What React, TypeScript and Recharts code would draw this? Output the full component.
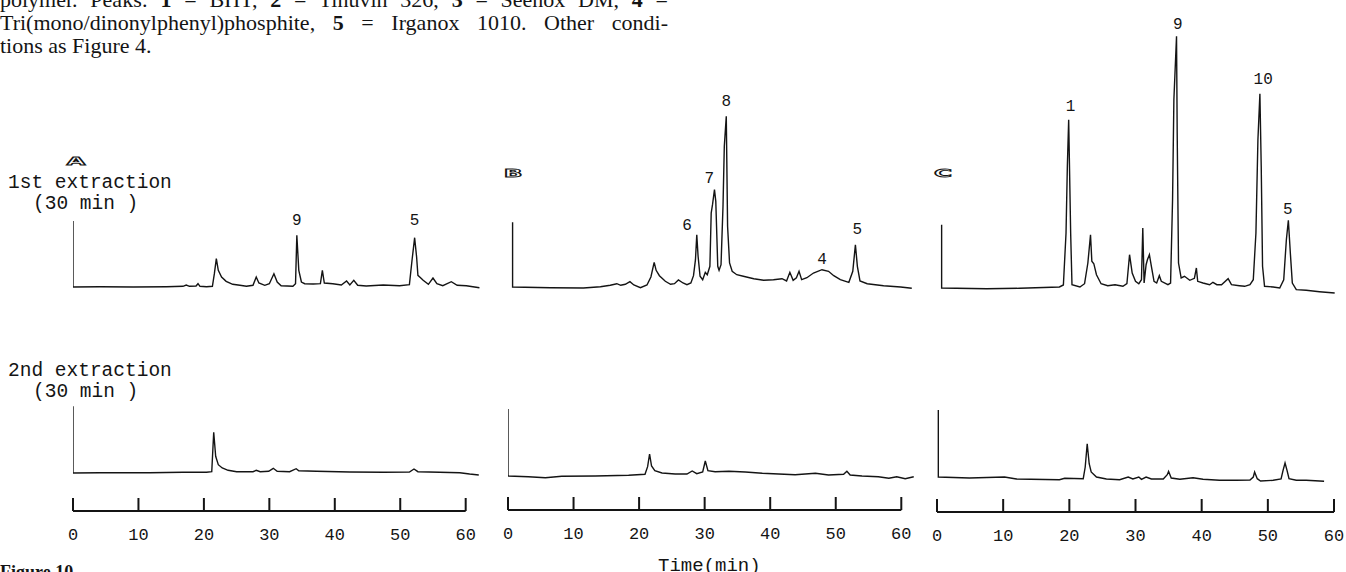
import React from 'react';
import { ComposedChart, Line, Scatter, XAxis, YAxis } from 'recharts';

type Pt = [number, number];

// retention time axis (min)
const timeTicks = [0, 10, 20, 30, 40, 50, 60];

// detector response: [time (min), signal]
const traceA1: Pt[] = [
  [0, 66], [0, 0], [4.1, 0.3], [9.2, 0], [14.3, 0.3], [16.8, 0.7], [17.3, 2], [17.8, 0.7],
  [18.8, 1], [19.1, 3.3], [19.4, 0.7], [20.4, 0.3], [21.3, 0.7], [21.6, 13.3], [21.9, 28.3],
  [22.2, 16.7], [22.7, 10], [23.4, 5.7], [24.4, 2.7], [25.5, 1.7], [26.5, 0.7], [27.5, 1.7],
  [28.0, 10], [28.4, 4], [29.3, 1.7], [30.0, 3.3], [30.7, 13.3], [31.2, 5], [31.8, 1.3],
  [33.6, 0.7], [34.0, 3.3], [34.2, 51.7], [34.5, 16.7], [34.9, 5], [35.4, 3.3], [36.7, 3],
  [37.8, 3.3], [38.1, 16.7], [38.4, 4], [39.7, 3.3], [41.0, 2], [41.8, 6], [42.3, 2],
  [42.9, 6.7], [43.5, 1.7], [44.8, 1], [47.4, 2], [49.9, 1.3], [51.4, 2.3], [51.8, 26.7],
  [52.2, 49.3], [52.5, 30], [52.7, 11.7], [53.1, 9.3], [53.5, 6.7], [54.3, 2.7], [55.0, 9],
  [55.6, 3.3], [56.5, 1.3], [57.8, 5.3], [58.7, 1.7], [60.1, 1.3], [61.1, 0.3], [62.1, -0.7],
];

const traceA2: Pt[] = [
  [0, 66.7], [0, 0], [4.1, 0.3], [11.7, 0.3], [16.8, 0.7], [20.4, 0.7], [21.2, 1.3], [21.5, 40.7],
  [21.8, 16.7], [22.2, 8.3], [22.8, 5], [23.7, 2.7], [25.0, 1.3], [27.5, 1.3], [28.0, 2.7],
  [28.6, 1.3], [29.9, 1.7], [30.6, 4.7], [31.2, 1.7], [33.1, 1.3], [34.1, 4.3], [34.5, 2.3],
  [37.2, 1.7], [42.3, 1], [47.4, 0.7], [51.4, 1], [52.1, 4], [52.7, 1.3], [56.0, 0.7],
  [59.1, 0.3], [60.6, -1], [62.0, -2],
];

const traceB1: Pt[] = [
  [0.7, 64.7], [0.7, 0], [6.5, -0.7], [11.5, -1], [14.1, 0.3], [15.6, 1.7], [16.6, 3.3],
  [17.2, 1.7], [17.9, 2.7], [18.6, 5.3], [19.2, 2], [20.2, -0.7], [21.2, 2], [21.8, 10],
  [22.3, 24.7], [22.6, 16.7], [23.1, 11.3], [24.0, 5.7], [24.8, 2.7], [25.4, 3.3], [26.0, 7],
  [26.7, 4], [27.3, 2.3], [27.9, 4], [28.3, 11.3], [28.6, 27.3], [28.8, 52.3], [29.0, 30.7],
  [29.3, 10.7], [29.7, 7.3], [30.1, 14.7], [30.4, 12.3], [30.8, 20.7], [31.0, 74], [31.2, 82.3],
  [31.5, 97.3], [31.7, 85.7], [32.0, 20.7], [32.2, 16.7], [32.5, 22.3], [32.8, 80.7],
  [33.0, 140.7], [33.3, 170.7], [33.5, 60.7], [33.8, 24], [34.2, 15.7], [34.9, 12.3],
  [35.9, 10.7], [37.5, 8.3], [39.0, 6.7], [40.5, 7.3], [41.8, 8.3], [42.5, 6], [43.0, 14.7],
  [43.5, 6.7], [44.0, 9.3], [44.4, 15.7], [44.8, 7.3], [45.6, 9.3], [46.6, 14], [47.9, 17.3],
  [48.9, 15.7], [49.7, 11.3], [50.7, 7.3], [52.0, 4.7], [52.6, 15.7], [53.0, 42.3],
  [53.3, 20.7], [53.7, 6], [54.8, 3.3], [57.3, 1.3], [59.9, 0], [61.6, -1.3],
];

const traceB2: Pt[] = [
  [0, 67], [0, 0], [3.1, -0.7], [5.7, -1.7], [8.2, -0.3], [13.3, 0], [18.4, 0.7], [20.9, 1.7],
  [21.3, 9.3], [21.6, 22], [21.9, 10], [22.4, 5.3], [23.5, 3], [25.5, 2], [27.3, 2], [28.1, 5],
  [28.8, 2.3], [29.7, 4], [30.1, 15], [30.5, 5.3], [31.6, 4.3], [33.7, 4.7], [36.2, 4],
  [38.8, 2.7], [41.3, 2], [43.8, 1.3], [46.9, 2.7], [48.9, 1], [51.2, 1.7], [51.7, 4.7],
  [52.2, 1], [54.0, 0], [56.5, -0.7], [58.1, -2.3], [59.3, -0.7], [60.6, -2.7], [61.9, -0.7],
];

const traceC1: Pt[] = [
  [0.7, 63.3], [0.7, 0], [7.5, -0.7], [12.5, -0.3], [18.5, 1], [19.1, 3], [19.5, 55],
  [19.7, 121.7], [19.9, 168.3], [20.2, 55], [20.4, 3.3], [21.6, 1], [22.3, 4.3], [22.8, 25],
  [23.2, 53.3], [23.4, 26.7], [23.7, 24.3], [24.1, 13.3], [24.8, 4.3], [25.8, 2.3], [26.9, 3.3],
  [28.1, 1.7], [28.7, 4.3], [29.1, 33.3], [29.5, 15], [30.0, 6.7], [30.5, 4.3], [30.9, 8.3],
  [31.1, 60], [31.3, 5], [31.6, 23.3], [31.8, 28.3], [32.1, 33.3], [32.4, 21.7], [32.8, 6.7],
  [33.2, 5], [33.6, 12.3], [33.9, 6.7], [34.9, 3.3], [35.3, 5], [35.6, 88.3], [35.8, 188.3],
  [36.2, 251.7], [36.3, 155], [36.5, 25], [36.9, 10], [37.4, 11.7], [38.2, 7.7], [38.9, 9.7],
  [39.2, 20], [39.4, 6.7], [40.2, 5], [41.2, 3.3], [41.7, 5.7], [42.3, 3.3], [43.0, 3.3],
  [44.0, 9.3], [44.5, 3.3], [45.7, 2.3], [46.5, 1.7], [47.3, 3.3], [47.8, 8.3], [48.2, 55],
  [48.5, 148.3], [48.8, 194.3], [49.0, 121.7], [49.2, 21.7], [49.5, 1.7], [50.8, 1], [51.8, 0],
  [52.4, 8.3], [52.8, 48.3], [53.1, 67.7], [53.4, 35], [53.7, 5], [54.3, -1.7], [55.8, -2.3],
  [57.8, -3.7], [60.1, -5],
];

const traceC2: Pt[] = [
  [0.2, 67], [0.2, 0], [4.9, -1], [10.2, 0], [12.0, -2], [18.5, -2.7], [19.3, -1.3], [22.1, -1.7],
  [22.4, 10], [22.7, 33.3], [23.0, 13.3], [23.3, 5], [24.1, 0], [25.6, -2], [27.6, -2.7],
  [28.9, 0], [29.6, -2], [30.5, 0], [30.9, -2.3], [31.6, 0], [32.4, -2], [34.2, -2], [34.8, 2.3],
  [35.0, 5.7], [35.4, -1], [36.7, -2.3], [38.7, -0.7], [40.2, -2.3], [42.7, -3.3], [45.2, -3.3],
  [47.3, -3], [47.8, 0], [48.0, 5], [48.4, -1.7], [48.9, -4], [50.8, -3.3], [52.0, -2],
  [52.3, 6.7], [52.6, 14], [52.9, 6.7], [53.2, -1.7], [54.3, -3.3], [55.8, -3.3], [58.5, -4.3],
];

// peak numbers, anchored at [time, signal] where they stand on the scan
const peaksA = [{ name: '9', t: 34.2, v: 66 }, { name: '5', t: 52.2, v: 66 }];
const peaksB = [
  { name: '6', t: 27.3, v: 60.6 },
  { name: '7', t: 30.7, v: 108.3 },
  { name: '8', t: 33.3, v: 184.6 },
  { name: '4', t: 47.9, v: 27.3 },
  { name: '5', t: 53.3, v: 57.3 },
];
const peaksC = [
  { name: '1', t: 20.2, v: 181 },
  { name: '9', t: 36.4, v: 263.3 },
  { name: '10', t: 49.3, v: 208.3 },
  { name: '5', t: 53.0, v: 77.6 },
];

const INK = '#141414';
const MONO = '"Liberation Mono", "DejaVu Sans Mono", monospace';
const SERIF = '"Liberation Serif", "DejaVu Serif", serif';

const toRows = (pts: Pt[]) => pts.map(([t, v]) => ({ t, v }));

// where each panel sits on the page
const panels = [
  { letter: 'A', x0: 73.3, ppm: 6.545, topZero: 287, botZero: 473.3, axisY: 510.7, letterX: 76, letterY: 161, top: traceA1, bottom: traceA2, peaks: peaksA },
  { letter: 'B', x0: 507.7, ppm: 6.555, topZero: 287.3, botZero: 476, axisY: 510, letterX: 513, letterY: 172.5, top: traceB1, bottom: traceB2, peaks: peaksB },
  { letter: 'C', x0: 937.3, ppm: 6.617, topZero: 288.3, botZero: 476.7, axisY: 511.7, letterX: 943, letterY: 173, top: traceC1, bottom: traceC2, peaks: peaksC },
];

const PeakTag = (p: any) => (
  <text x={p.cx} y={p.cy} textAnchor="middle" dominantBaseline="central" fontFamily={MONO} fontSize={16} fill={INK}>
    {p.payload.name}
  </text>
);

const TimeTick = (p: any) => (
  <g>
    <line x1={p.x} y1={p.y} x2={p.x} y2={p.y - 13} stroke={INK} strokeWidth={2} />
    <text x={p.x} y={p.y + 25} textAnchor="middle" dominantBaseline="central" fontFamily={MONO} fontSize={17} fill={INK}>
      {p.payload.value}
    </text>
  </g>
);

function Trace({ pts, peaks, left, top, ppm, yMin, yMax }: any) {
  const pad = 4;
  const width = 63 * ppm + pad * 2;
  const height = yMax - yMin;
  return (
    <div style={{ position: 'absolute', left: left - pad, top }}>
      <ComposedChart width={width} height={height} margin={{ top: 0, right: pad, bottom: 0, left: pad }}>
        <XAxis type="number" dataKey="t" domain={[0, 63]} allowDataOverflow hide />
        <YAxis type="number" domain={[yMin, yMax]} allowDataOverflow hide />
        <Line data={toRows(pts)} dataKey="v" type="linear" dot={false} stroke={INK} strokeWidth={1.4} isAnimationActive={false} />
        {peaks && <Scatter data={peaks} dataKey="v" shape={PeakTag} isAnimationActive={false} />}
      </ComposedChart>
    </div>
  );
}

function TimeAxis({ left, axisY, ppm }: any) {
  const side = 20;
  return (
    <div style={{ position: 'absolute', left: left - side, top: axisY - 20 }}>
      <ComposedChart width={60 * ppm + side * 2} height={60} data={timeTicks.map((t) => ({ t }))} margin={{ top: 10, right: side, bottom: 0, left: side }}>
        <XAxis
          type="number"
          dataKey="t"
          domain={[0, 60]}
          ticks={timeTicks}
          interval={0}
          height={40}
          tickLine={false}
          tickSize={0}
          tickMargin={0}
          axisLine={{ stroke: INK, strokeWidth: 2 }}
          tick={<TimeTick />}
        />
        <YAxis hide />
      </ComposedChart>
    </div>
  );
}

const txt = (extra: React.CSSProperties): React.CSSProperties => ({
  position: 'absolute',
  whiteSpace: 'pre',
  color: INK,
  ...extra,
});

const captionLine = (top: number): React.CSSProperties =>
  txt({
    left: 0,
    top,
    width: 668,
    fontFamily: SERIF,
    fontSize: 22,
    lineHeight: '22px',
    textAlign: 'justify',
    textAlignLast: 'justify',
    whiteSpace: 'normal',
  });

export default function App() {
  return (
    <div style={{ position: 'absolute', left: 0, top: 0, width: 1346, height: 572, overflow: 'hidden', background: '#fff' }}>
      {/* caption, cut off by the page edge */}
      <div style={captionLine(-11)}>
        polymer. Peaks: <b>1</b> = BHT, <b>2</b> = Tinuvin 326, <b>3</b> = Seenox DM, <b>4</b> =
      </div>
      <div style={captionLine(12)}>
        Tri(mono/dinonylphenyl)phosphite, <b>5</b> = Irganox 1010. Other condi-
      </div>
      <div style={txt({ left: 0, top: 35, fontFamily: SERIF, fontSize: 22, lineHeight: '22px' })}>tions as Figure 4.</div>

      <div style={txt({ left: 8, top: 174, fontFamily: MONO, fontSize: 19.5, lineHeight: '19px' })}>1st extraction</div>
      <div style={txt({ left: 33, top: 195, fontFamily: MONO, fontSize: 19.5, lineHeight: '19px' })}>(30 min )</div>
      <div style={txt({ left: 8, top: 362, fontFamily: MONO, fontSize: 19.5, lineHeight: '19px' })}>2nd extraction</div>
      <div style={txt({ left: 33, top: 383, fontFamily: MONO, fontSize: 19.5, lineHeight: '19px' })}>(30 min )</div>

      {panels.map((p) => (
        <div
          key={p.letter}
          style={txt({
            left: p.letterX,
            top: p.letterY,
            fontFamily: '"DejaVu Sans", sans-serif',
            fontWeight: 700,
            fontSize: 14,
            lineHeight: '14px',
            color: '#fff',
            WebkitTextStroke: `1.1px ${INK}`,
            transform: 'translate(-50%, -50%) scale(1.75, 0.75)',
          })}
        >
          {p.letter}
        </div>
      ))}

      {panels.map((p) => (
        <React.Fragment key={'c' + p.letter}>
          <Trace pts={p.top} peaks={p.peaks} left={p.x0} top={p.topZero - 270} ppm={p.ppm} yMin={-15} yMax={270} />
          <Trace pts={p.bottom} left={p.x0} top={p.botZero - 72} ppm={p.ppm} yMin={-8} yMax={72} />
          <TimeAxis left={p.x0} axisY={p.axisY} ppm={p.ppm} />
        </React.Fragment>
      ))}

      <div style={txt({ left: 658, top: 556, fontFamily: MONO, fontSize: 19, lineHeight: '20px' })}>Time(min)</div>
      <div style={txt({ left: 0, top: 562, fontFamily: SERIF, fontWeight: 700, fontSize: 18, lineHeight: '20px' })}>Figure 10</div>
    </div>
  );
}
